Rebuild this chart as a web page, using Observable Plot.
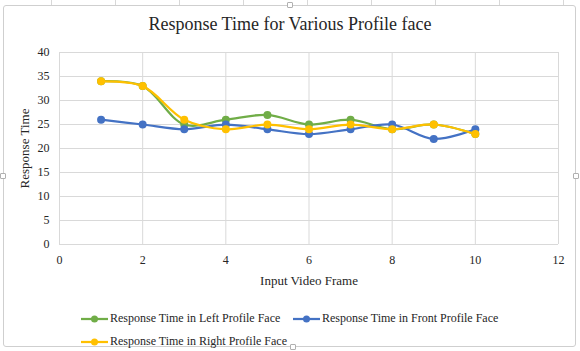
<!DOCTYPE html>
<html><head><meta charset="utf-8">
<script src="https://cdn.jsdelivr.net/npm/d3@7"></script>
<script src="https://cdn.jsdelivr.net/npm/@observablehq/plot@0.6"></script>
<style>
body{margin:0;width:580px;height:351px;overflow:hidden;background:#fff;font-family:"Liberation Serif","Times New Roman",serif;position:relative}
#topstrip{position:absolute;left:0;top:0;width:580px;height:5px;background:repeating-linear-gradient(to right,#fff 0,#fff 51px,#d8d8d8 51px,#d8d8d8 52px,#fff 52px,#fff 64px);}
#frame{position:absolute;left:3px;top:5px;width:573px;height:342px;border:1px solid #cfcfcf;border-radius:3px;box-sizing:border-box;background:#fff}
.h{position:absolute;width:6px;height:6px;border:1px solid #b0b0b0;background:#fff;border-radius:1px;box-sizing:border-box}
#title{position:absolute;top:14px;left:0;width:580px;text-align:center;font-size:18px;color:#262626}
#chart{position:absolute;top:40px;left:0}
.leg{position:absolute;font-size:12px;color:#262626;display:flex;align-items:center;white-space:nowrap}
.leg svg{margin-right:2px}
</style></head>
<body>
<div id="topstrip"></div>
<div id="frame"></div>
<div class="h" style="left:287px;top:2px"></div>
<div class="h" style="left:290px;top:344px"></div>
<div class="h" style="left:0px;top:173px"></div>
<div class="h" style="left:573px;top:173px"></div>
<div id="title">Response Time for Various Profile face</div>
<div id="chart"></div>
<script>
const frames = [1,2,3,4,5,6,7,8,9,10];
const leftProfile  = [34,33,25,26,27,25,26,24,25,23];
const frontProfile = [26,25,24,25,24,23,24,25,22,24];
const rightProfile = [34,33,26,24,25,24,25,24,25,23];
const seriesNames = ["Response Time in Left Profile Face","Response Time in Front Profile Face","Response Time in Right Profile Face"];
const seriesColors = ["#70ad47","#4472c4","#ffc000"];
const xTicks = [0,2,4,6,8,10,12];
const yTicks = [0,5,10,15,20,25,30,35,40];

const serif = "'Liberation Serif','Times New Roman',serif";
const seriesValues = [leftProfile, frontProfile, rightProfile];
const rows = [];
seriesValues.forEach((vals,i)=>vals.forEach((v,j)=>rows.push({series:seriesNames[i],x:frames[j],y:v})));

const marks = [
  Plot.ruleX(xTicks,{stroke:"#d9d9d9",strokeWidth:1}),
  Plot.ruleY(yTicks,{stroke:"#d9d9d9",strokeWidth:1}),
];
seriesNames.forEach((name,i)=>{
  const d = rows.filter(r=>r.series===name);
  marks.push(Plot.line(d,{x:"x",y:"y",stroke:seriesColors[i],strokeWidth:2.25,curve:"catmull-rom"}));
  marks.push(Plot.dot(d,{x:"x",y:"y",fill:seriesColors[i],r:4}));
});
marks.push(Plot.axisX(xTicks,{tickSize:0,tickPadding:11,label:"Input Video Frame",labelAnchor:"center",labelArrow:"none",labelOffset:40,fontSize:12,fontFamily:serif}));
marks.push(Plot.axisY(yTicks,{tickSize:0,tickPadding:10,label:"Response Time",labelAnchor:"center",labelArrow:"none",labelOffset:40,fontSize:12,fontFamily:serif}));

const chart = Plot.plot({
  width:580, height:250,
  marginLeft:59, marginRight:22, marginTop:12, marginBottom:46,
  x:{domain:[0,12]},
  y:{domain:[0,40]},
  style:{fontFamily:serif,fontSize:"12px",color:"#262626",background:"transparent"},
  marks
});
document.getElementById("chart").appendChild(chart);
chart.querySelectorAll("g[aria-label='x-axis label'] text, g[aria-label='y-axis label'] text").forEach(t=>t.style.fontSize="13px");

const legPos = [[81,319],[293,319],[81,342]];
seriesNames.forEach((name,i)=>{
  const div = document.createElement("div");
  div.className="leg";
  div.style.left = legPos[i][0]+"px";
  div.style.top = (legPos[i][1]-8)+"px";
  div.innerHTML = `<svg width="27" height="10"><line x1="0" y1="5" x2="27" y2="5" stroke="${seriesColors[i]}" stroke-width="2.25"/><circle cx="13.5" cy="5" r="3.5" fill="${seriesColors[i]}"/></svg><span>${name}</span>`;
  document.body.appendChild(div);
});
</script>
</body></html>
